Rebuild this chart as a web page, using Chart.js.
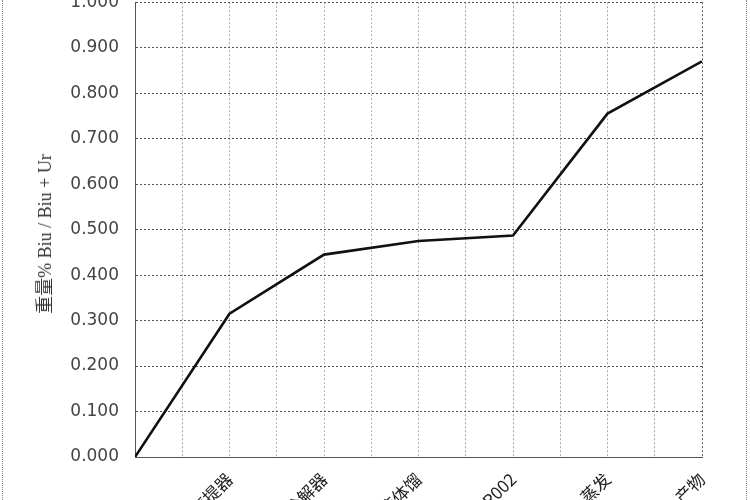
<!DOCTYPE html>
<html lang="zh">
<head>
  <meta charset="UTF-8">
  <title>重量% Biu / Biu + Ur</title>
  <script src="https://cdn.jsdelivr.net/npm/chart.js"></script>
  <style>
    html, body { margin: 0; padding: 0; background: #fff; overflow: hidden; }
    #wrap { position: relative; width: 750px; height: 500px; overflow: hidden; }
    .edge { position: absolute; top: 0; height: 500px; border-left: 1px dotted #888; z-index: 2; }
    #yTitle {
      position: absolute; left: 43px; top: 234px; z-index: 2;
      transform: translate(-50%, -50%) rotate(-90deg);
      white-space: nowrap; font: 18px "Liberation Serif", "Noto Sans CJK SC", serif; color: #333;
    }
  </style>
</head>
<body>
  <div id="wrap">
    <canvas id="c" width="750" height="560" style="position:absolute;left:0;top:-24px"></canvas>
    <div class="edge" style="left:2px"></div>
    <div class="edge" style="left:746px"></div>
    <div id="yTitle">重量% Biu / Biu + Ur</div>
  </div>
  <script>
    // 各个工段 (x 轴类别), 底部标签被裁掉一半; 第一个点没有标签
    const stages = ['', '汽提器', '分解器', '液体馏', 'R002', '蒸发', '产物'];
    const biuShare = [0.000, 0.315, 0.445, 0.475, 0.487, 0.755, 0.870];
    const yTicks = [0, 0.1, 0.2, 0.3, 0.4, 0.5, 0.6, 0.7, 0.8, 0.9, 1.0];

    const points = stages.map((s, i) => ({ x: i, y: biuShare[i] }));

    new Chart(document.getElementById('c'), {
      type: 'line',
      data: {
        datasets: [{
          data: points,
          borderColor: '#111',
          borderWidth: 2.6,
          pointRadius: 0,
          tension: 0,
          fill: false
        }]
      },
      options: {
        responsive: false,
        animation: false,
        layout: { padding: { left: 60, right: 48, top: 0, bottom: 0 } },
        plugins: { legend: { display: false }, tooltip: { enabled: false } },
        scales: {
          x: {
            type: 'linear',
            min: 0,
            max: stages.length - 1,
            afterBuildTicks: (axis) => {
              const t = [];
              for (let v = 0; v <= stages.length - 1; v += 0.5) t.push({ value: v });
              axis.ticks = t;
            },
            afterFit: (axis) => { axis.height = 79; },
            ticks: {
              autoSkip: false,
              minRotation: 45,
              maxRotation: 45,
              padding: 12,
              color: '#222',
              font: { family: '"Noto Sans CJK SC", sans-serif', size: 17 },
              callback: (v) => Number.isInteger(v) ? stages[v] : ''
            },
            grid: {
              color: (ctx) => ctx.index === 0 || ctx.index === (stages.length - 1) * 2 ? '#555' : '#aaa',
              lineWidth: 1,
              drawTicks: false
            },
            border: { color: '#555', dash: [2, 2] }
          },
          y: {
            min: 0,
            max: 1,
            afterBuildTicks: (axis) => { axis.ticks = yTicks.map(v => ({ value: v })); },
            afterFit: (axis) => { axis.width = 75; },
            ticks: {
              padding: 16,
              color: '#444',
              font: { family: '"DejaVu Sans", sans-serif', size: 17 },
              callback: (v) => v.toFixed(3)
            },
            grid: { color: '#555', lineWidth: 1, drawTicks: false },
            border: { color: '#555', dash: [2, 2] }
          }
        }
      }
    });
  </script>
</body>
</html>
